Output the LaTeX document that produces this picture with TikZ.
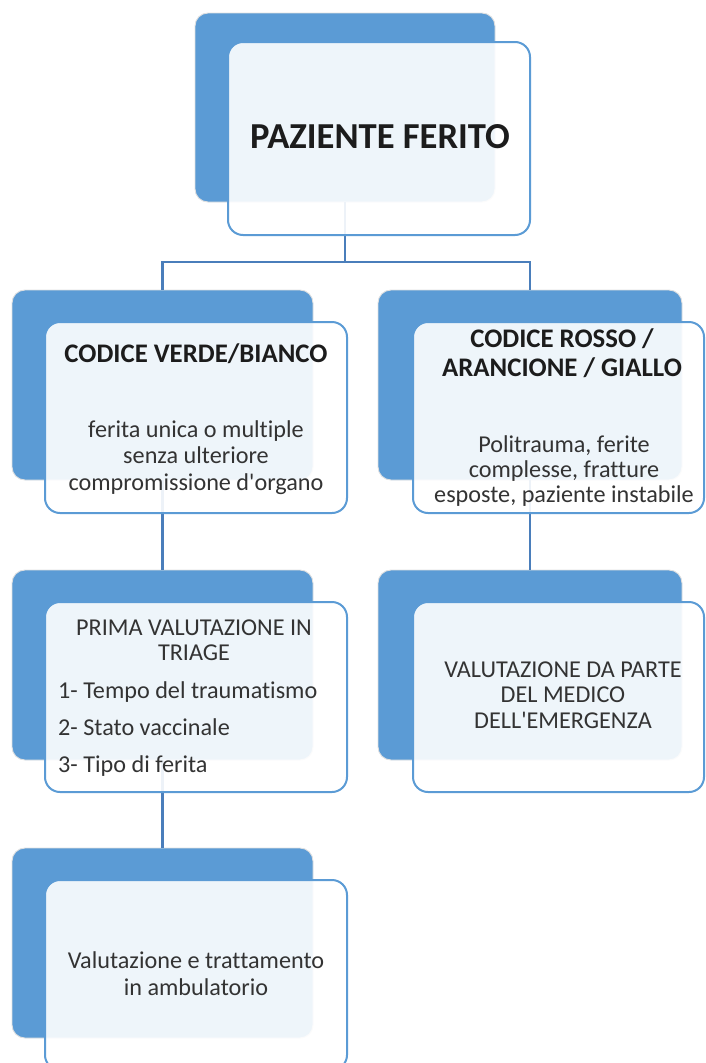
\documentclass[tikz,border=0pt]{standalone}
\usepackage{fontspec}
\newfontfamily\carl{Carlito}[Ligatures=NoCommon]
\definecolor{backblue}{HTML}{5B9BD5}
\definecolor{frontedge}{HTML}{5B9BD5}
\definecolor{connblue}{HTML}{4A7EBB}
\definecolor{textdark}{HTML}{1C1C1C}
\begin{document}
\begin{tikzpicture}[x=1pt,y=1pt,
  backbox/.style={rectangle, rounded corners=13pt, fill=backblue, draw=black!12, line width=0.9pt, inner sep=0pt, outer sep=0pt},
  frontbox/.style={rectangle, rounded corners=15pt, fill=white, fill opacity=0.9, draw=frontedge, line width=2pt, inner sep=0pt, outer sep=0pt},
  conn/.style={draw=connblue, line width=2.4pt},
  titletext/.style={text=textdark, inner sep=0pt, anchor=base, align=center, font=\carl\fontsize{36.6}{40}\selectfont\bfseries},
  headtext/.style={text=textdark, inner sep=0pt, anchor=base, align=center, font=\carl\fontsize{26.8}{29}\selectfont\bfseries},
  bodytext/.style={text=textdark!90, inner sep=0pt, anchor=base, align=center, font=\carl\fontsize{24.2}{25.5}\selectfont},
  listtext/.style={text=textdark!90, inner sep=0pt, anchor=base west, font=\carl\fontsize{24.2}{25.5}\selectfont}
]
\useasboundingbox (0,0) rectangle (705,-1063);
\clip (0,0) rectangle (705,-1063);

% back boxes
\node[backbox, minimum width=300pt, minimum height=189pt] (tb) at (345,-107.5) {};
\node[backbox, minimum width=301pt, minimum height=190pt] (lb1) at (162.5,-385) {};
\node[backbox, minimum width=304pt, minimum height=190pt] (rb1) at (530,-385) {};
\node[backbox, minimum width=301pt, minimum height=190pt] (lb2) at (162.5,-665) {};
\node[backbox, minimum width=304pt, minimum height=190pt] (rb2) at (530,-665) {};
\node[backbox, minimum width=301pt, minimum height=190pt] (lb3) at (162.5,-943) {};

% connectors
\coordinate (j) at (345,-262);
\draw[conn] (tb.south) -- (j);
\draw[conn] (j) -| (lb1.north);
\draw[conn] (j) -| (rb1.north);
\draw[conn] (lb1.south) -- (lb2.north);
\draw[conn] (rb1.south) -- (rb2.north);
\draw[conn] (lb2.south) -- (lb3.north);

% front boxes
\node[frontbox, minimum width=302pt, minimum height=193pt] (tf) at (379,-138.5) {};
\node[frontbox, minimum width=302pt, minimum height=191pt] (lf1) at (196,-417.5) {};
\node[frontbox, minimum width=291pt, minimum height=191pt] (rf1) at (558.5,-417.5) {};
\node[frontbox, minimum width=302pt, minimum height=190pt] (lf2) at (196,-697) {};
\node[frontbox, minimum width=291pt, minimum height=190pt] (rf2) at (558.5,-697) {};
\node[frontbox, minimum width=302pt, minimum height=190pt] (lf3) at (196,-975) {};

% texts (anchor base = baseline of the last line)
\node[titletext] (t0) at (380,-148) {PAZIENTE FERITO};
\node[headtext] (t1) at (196,-362) {CODICE VERDE/BIANCO};
\node[bodytext, font=\carl\fontsize{24.2}{26.5}\selectfont] (t2) at (196,-490) {ferita unica o multiple\\senza ulteriore\\compromissione d'organo};
\node[headtext] (t3) at (562,-376) {CODICE ROSSO /\\ARANCIONE / GIALLO};
\node[bodytext, font=\carl\fontsize{24.2}{25}\selectfont] (t4) at (564,-502) {Politrauma, ferite\\complesse, fratture\\esposte, paziente instabile};
\node[bodytext, font=\carl\fontsize{24.2}{25}\selectfont] (t5) at (194,-660) {PRIMA VALUTAZIONE IN\\TRIAGE};
\node[listtext] (t6) at (58,-698) {1- Tempo del traumatismo};
\node[listtext] (t7) at (58,-735) {2- Stato vaccinale};
\node[listtext] (t8) at (58,-772) {3- Tipo di ferita};
\node[bodytext] (t9) at (563,-728) {VALUTAZIONE DA PARTE\\DEL MEDICO\\DELL'EMERGENZA};
\node[bodytext, font=\carl\fontsize{24.2}{27}\selectfont] (t10) at (196,-995) {Valutazione e trattamento\\in ambulatorio};
\end{tikzpicture}
\end{document}
